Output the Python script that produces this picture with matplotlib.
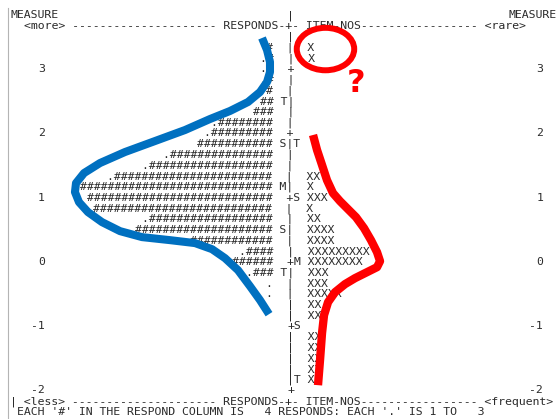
import re

import matplotlib
matplotlib.use("Agg")
import matplotlib.pyplot as plt
from matplotlib.patches import Ellipse

# Wright map rows, row 0 at the top down to row 32 (six rows per logit)
measure_labels = [3, 2, 1, 0, -1, -2]
person_hashes = [1, 1, 1, 1, 1, 2, 3, 8, 9, 11, 15, 18, 23, 28, 27, 26, 18,
                 20, 12, 4, 6, 3, 0, 0, 0, 0, 0, 0, 0, 0, 0, 0, 0]
person_dots = [0, 1, 1, 1, 0, 0, 0, 1, 1, 0, 1, 1, 1, 0, 0, 0, 1,
               0, 0, 1, 0, 1, 1, 1, 0, 0, 0, 0, 0, 0, 0, 0, 0]
item_counts = [1, 1, 0, 0, 0, 0, 0, 0, 0, 0, 0, 0, 2, 1, 3, 1, 2,
               4, 4, 9, 8, 3, 3, 5, 2, 2, 0, 2, 2, 2, 2, 2, 0]
person_marks = {5: "T", 9: "S", 13: "M", 17: "S", 21: "T"}
item_marks = {9: "T", 14: "S", 20: "M", 26: "S", 31: "T"}

header_left = "MEASURE"
header_right = "MEASURE"
top_rule = "  <more> --------------------- RESPONDS-+- ITEM-NOS----------------- <rare>"
bottom_rule = "| <less> --------------------- RESPONDS-+- ITEM-NOS----------------- <frequent>"
footer = " EACH '#' IN THE RESPOND COLUMN IS   4 RESPONDS: EACH '.' IS 1 TO   3"

# hand-drawn outlines over the two distributions (text column, measure)
person_curve_col = [36.36, 37.08, 37.51, 37.51, 37.08, 36.07, 34.34, 31.73, 28.84,
                    25.23, 20.90, 16.56, 12.95, 10.64, 9.48, 9.33, 9.91, 11.21,
                    13.24, 15.84, 19.02, 23.06, 26.68, 29.13, 31.01, 32.89, 34.62,
                    36.07, 37.37]
person_curve_m = [3.462, 3.275, 3.089, 2.933, 2.778, 2.622, 2.467, 2.327, 2.202,
                  2.031, 1.860, 1.689, 1.518, 1.362, 1.206, 1.066, 0.910, 0.755,
                  0.599, 0.459, 0.366, 0.319, 0.273, 0.179, 0.039, -0.148, -0.397,
                  -0.614, -0.832]
item_curve_col = [43.73, 44.31, 45.03, 45.75, 46.62, 47.63, 48.64, 49.94, 51.10,
                  52.11, 52.98, 53.41, 52.98, 51.53, 49.80, 48.35, 46.91, 45.90,
                  45.32, 45.03, 44.74, 44.45]
item_curve_m = [1.954, 1.720, 1.487, 1.251, 1.049, 0.925, 0.816, 0.676, 0.505,
                0.318, 0.132, -0.008, -0.101, -0.179, -0.272, -0.365, -0.490,
                -0.645, -0.847, -1.127, -1.547, -1.936]
circle_center = (45.53, 3.29)
circle_size = (8.3, 0.66)
question_pos = (49.9, 2.76)

INK = "#2b2b2b"
BLUE = "#0070c0"
RED = "#ff0000"
FS = 8.28
MONO = "DejaVu Sans Mono"


def row_measure(r):
    return (20 - r) / 6


def put(chars, col, s):
    for i, ch in enumerate(s):
        chars[col + i] = ch


rows = {}
rows[-3] = [" "] * 80
put(rows[-3], 0, header_left)
put(rows[-3], 40, "|")
put(rows[-3], 72, header_right)
rows[-2] = list(top_rule.ljust(80))
rows[-1] = [" "] * 80
put(rows[-1], 40, "|")

for r in range(len(person_hashes)):
    chars = [" "] * 80
    persons = "." * person_dots[r] + "#" * person_hashes[r]
    if persons:
        put(chars, 38 - len(persons), persons)
    if r in person_marks:
        put(chars, 39, person_marks[r])
    on_tick = (r - 2) % 6 == 0
    put(chars, 40, "+" if on_tick else "|")
    if r in item_marks:
        put(chars, 41, item_marks[r])
    if item_counts[r]:
        put(chars, 43, "X" * item_counts[r])
    if on_tick:
        lab = str(measure_labels[(r - 2) // 6])
        put(chars, 5 - len(lab), lab)
        put(chars, 77 - len(lab), lab)
    rows[r] = chars

rows[33] = list(bottom_rule.ljust(80))
rows[34] = list(footer.ljust(80))

fig = plt.figure(figsize=(5.56, 4.19), dpi=100)
ax = fig.add_axes([0, 0, 1, 1])
ax.set_xlim(-1.503, 78.84)
ax.set_ylim(-2.4618, 4.0526)
ax.axis("off")

# each row goes out in runs so wide gaps stay empty
for r, chars in rows.items():
    line = "".join(chars)
    for run in re.finditer(r"\S+(?: {1,3}\S+)*", line):
        ax.text(run.start(), row_measure(r) - 0.065, run.group(), fontsize=FS,
                family=MONO, ha="left", va="baseline", color=INK)

# page edge
ax.axvline(-0.3, ymin=0, ymax=0.98, color="#b4b4b4", lw=0.8)

ax.plot(person_curve_col, person_curve_m, color=BLUE, lw=5.8,
        solid_capstyle="butt", solid_joinstyle="round", zorder=5)
ax.plot(item_curve_col, item_curve_m, color=RED, lw=6.0,
        solid_capstyle="butt", solid_joinstyle="round", zorder=5)
ax.add_patch(Ellipse(circle_center, circle_size[0], circle_size[1], fill=False,
                     ec=RED, lw=4.3, zorder=5))
ax.text(question_pos[0], question_pos[1], "?", color=RED, fontsize=23,
        fontweight="bold", ha="center", va="center", zorder=5)

fig.savefig("out.png", dpi=100)
